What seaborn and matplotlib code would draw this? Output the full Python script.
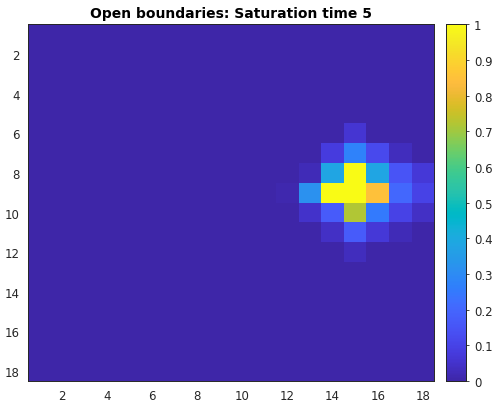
import numpy as np
import pandas as pd
import matplotlib
matplotlib.use('Agg')
import matplotlib.pyplot as plt
import seaborn as sns
from matplotlib.colors import LinearSegmentedColormap

# grid size and the non-zero cells of the saturation field (row, col are 1-based)
n = 18
rows = [6, 7, 7, 7, 7, 8, 8, 8, 8, 8, 8, 9, 9, 9, 9, 9, 9, 9, 10, 10, 10, 10, 10, 10, 11, 11, 11, 11, 12]
cols = [15, 14, 15, 16, 17, 13, 14, 15, 16, 17, 18, 12, 13, 14, 15, 16, 17, 18, 13, 14, 15, 16, 17, 18, 14, 15, 16, 17, 15]
vals = [0.06, 0.08, 0.27, 0.12, 0.03, 0.02, 0.38, 1.0, 0.38, 0.15, 0.07, 0.01, 0.32, 1.0, 1.0, 0.85, 0.2, 0.1,
        0.05, 0.17, 0.72, 0.25, 0.1, 0.04, 0.04, 0.17, 0.07, 0.02, 0.03]
tick_vals = [2, 4, 6, 8, 10, 12, 14, 16, 18]
cbar_ticks = [0, 0.1, 0.2, 0.3, 0.4, 0.5, 0.6, 0.7, 0.8, 0.9, 1]
cbar_labels = ['0', '0.1', '0.2', '0.3', '0.4', '0.5', '0.6', '0.7', '0.8', '0.9', '1']

S = np.zeros((n, n))
for r, c, v in zip(rows, cols, vals):
    S[r - 1, c - 1] = v
df = pd.DataFrame(S, index=range(1, n + 1), columns=range(1, n + 1))

# MATLAB parula
parula_pts = [
    [0.2422, 0.1504, 0.6603], [0.2504, 0.1650, 0.7076], [0.2578, 0.1818, 0.7511], [0.2647, 0.1978, 0.7952],
    [0.2706, 0.2147, 0.8364], [0.2751, 0.2342, 0.8710], [0.2783, 0.2559, 0.8991], [0.2803, 0.2782, 0.9221],
    [0.2813, 0.3006, 0.9414], [0.2810, 0.3228, 0.9579], [0.2795, 0.3447, 0.9717], [0.2760, 0.3667, 0.9829],
    [0.2699, 0.3892, 0.9906], [0.2602, 0.4123, 0.9952], [0.2440, 0.4358, 0.9988], [0.2206, 0.4603, 0.9973],
    [0.1963, 0.4847, 0.9892], [0.1834, 0.5074, 0.9798], [0.1786, 0.5289, 0.9682], [0.1764, 0.5499, 0.9520],
    [0.1687, 0.5703, 0.9359], [0.1540, 0.5902, 0.9218], [0.1460, 0.6091, 0.9079], [0.1380, 0.6276, 0.8973],
    [0.1248, 0.6459, 0.8883], [0.1113, 0.6635, 0.8763], [0.0952, 0.6798, 0.8598], [0.0689, 0.6948, 0.8394],
    [0.0297, 0.7082, 0.8163], [0.0036, 0.7203, 0.7917], [0.0067, 0.7312, 0.7660], [0.0433, 0.7411, 0.7394],
    [0.0964, 0.7500, 0.7120], [0.1408, 0.7584, 0.6842], [0.1717, 0.7670, 0.6554], [0.1938, 0.7758, 0.6251],
    [0.2161, 0.7843, 0.5923], [0.2470, 0.7918, 0.5567], [0.2906, 0.7973, 0.5188], [0.3406, 0.8008, 0.4789],
    [0.3909, 0.8029, 0.4354], [0.4456, 0.8024, 0.3909], [0.5044, 0.7993, 0.3480], [0.5616, 0.7942, 0.3045],
    [0.6174, 0.7876, 0.2612], [0.6720, 0.7793, 0.2227], [0.7242, 0.7698, 0.1910], [0.7738, 0.7598, 0.1646],
    [0.8203, 0.7498, 0.1535], [0.8634, 0.7406, 0.1596], [0.9035, 0.7330, 0.1774], [0.9393, 0.7288, 0.2100],
    [0.9728, 0.7298, 0.2394], [0.9956, 0.7434, 0.2371], [0.9970, 0.7659, 0.2199], [0.9952, 0.7893, 0.2028],
    [0.9892, 0.8136, 0.1885], [0.9786, 0.8386, 0.1766], [0.9676, 0.8639, 0.1643], [0.9610, 0.8890, 0.1537],
    [0.9597, 0.9135, 0.1423], [0.9628, 0.9373, 0.1265], [0.9691, 0.9606, 0.1060], [0.9769, 0.9839, 0.0805]]
parula = LinearSegmentedColormap.from_list('parula', parula_pts)

sns.set_style('white')
plt.rcParams['font.family'] = ['DejaVu Sans']
dark = '#262626'

fig = plt.figure(figsize=(4.95, 4.06), dpi=100)
ax = fig.add_axes([0.0566, 0.059, 0.8204, 0.879])
cax = fig.add_axes([0.902, 0.059, 0.040, 0.879])

sns.heatmap(df, ax=ax, cmap=parula, vmin=0, vmax=1, cbar_ax=cax, square=False,
            xticklabels=False, yticklabels=False)

pos = np.array(tick_vals) - 0.5
ax.set_xticks(pos)
ax.set_xticklabels([str(t) for t in tick_vals])
ax.set_yticks(pos)
ax.set_yticklabels([str(t) for t in tick_vals], rotation=0)
ax.tick_params(direction='in', length=3, top=True, right=True, labelsize=8.5,
               colors=dark, labelcolor=dark, width=0.6, pad=6)
ax.set_xlabel('')
ax.set_ylabel('')
for s in ax.spines.values():
    s.set_visible(True)
    s.set_color(dark)
    s.set_linewidth(0.7)
ax.set_title('Open boundaries: Saturation time 5', fontsize=10, fontweight='bold', color='black', pad=5)

cax.set_yticks(cbar_ticks)
cax.set_yticklabels(cbar_labels)
cax.tick_params(direction='out', length=2, labelsize=8.5, colors=dark, labelcolor=dark, width=0.6)
for s in cax.spines.values():
    s.set_visible(True)
    s.set_color(dark)
    s.set_linewidth(0.7)

fig.savefig('out.png', dpi=100)
